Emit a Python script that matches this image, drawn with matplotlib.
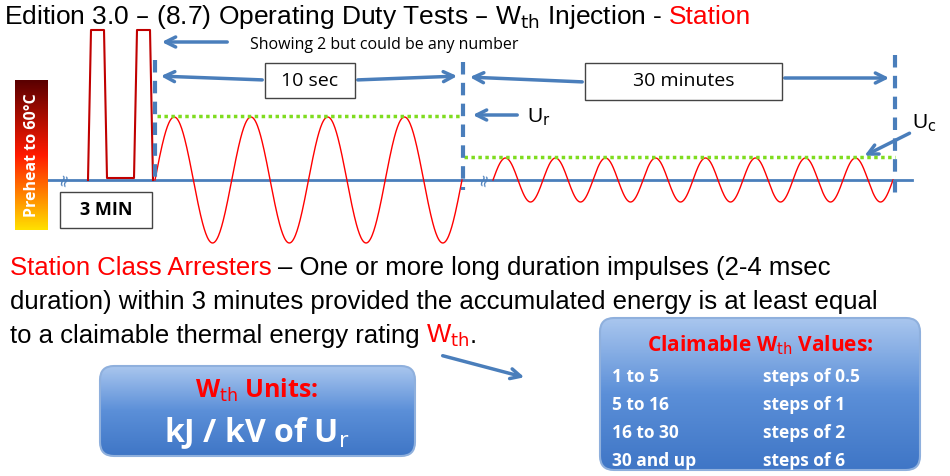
import numpy as np
import matplotlib; matplotlib.use("Agg")
import matplotlib.pyplot as plt
from matplotlib.patches import FancyBboxPatch, Rectangle

# ── 도식 데이터 (픽셀 좌표계, y는 아래로 증가) ──
base_y = 180
pulse_x = [88, 91, 104, 107, 134, 137, 150, 153]
pulse_y = [180, 30, 30, 178, 178, 30, 30, 180]
big_start, big_end, big_cycles, big_amp = 155, 462, 4, 63
small_start, small_end, small_cycles, small_amp = 493, 893, 8, 22
ur_level, uc_level = 116, 157
claim_rows = [("1 to 5", "steps of 0.5"), ("5 to 16", "steps of 1"),
              ("16 to 30", "steps of 2"), ("30 and up", "steps of 6")]

BLUE = "#4a7ebb"
fig = plt.figure(figsize=(9.5, 4.76), dpi=100)
ax = fig.add_axes([0, 0, 1, 1])
ax.set_xlim(0, 950); ax.set_ylim(476, 0); ax.axis("off")
rend = fig.canvas.get_renderer()

def runs(x, y, parts, fs):
    # 색이 다른 조각들을 이어서 배치 (gap: 조각 뒤 여백 px)
    for s, c, gap in parts:
        t = ax.text(x, y, s, color=c, fontsize=fs, va="center", family="Liberation Sans")
        x += t.get_window_extent(rend).width + gap

# 제목
runs(4, 17, [("Edition 3.0 – (8.7) Operating Duty Tests – W$_{\\rm th}$ Injection -", "black", 6),
             ("Station", "red", 0)], 19)

# 기준선
ax.plot([48, 912], [base_y, base_y], color=BLUE, lw=2, zorder=2)
for xb in (64, 484):
    ax.text(xb, base_y, "≈", rotation=75, fontsize=12, color=BLUE, ha="center", va="center")

# 펄스, 사인
ax.plot(pulse_x, pulse_y, color="#c00000", lw=1.5, zorder=3)
xs = np.linspace(big_start, big_end, 600)
ax.plot(xs, base_y - big_amp*np.sin(2*np.pi*big_cycles*(xs-big_start)/(big_end-big_start)), color="red", lw=1, zorder=3)
xs = np.linspace(small_start, small_end, 600)
ax.plot(xs, base_y - small_amp*np.sin(2*np.pi*small_cycles*(xs-small_start)/(small_end-small_start)), color="red", lw=1, zorder=3)

# 녹색 점선 레벨
ax.plot([157, 462], [ur_level, ur_level], color="#7fdc1f", lw=2.5, ls=(0, (1, 1)), zorder=4)
ax.plot([464, 895], [uc_level, uc_level], color="#7fdc1f", lw=2.5, ls=(0, (1, 1)), zorder=4)

# 점선 세로선
for xv, y0, y1 in [(155, 60, 182), (463, 62, 190), (895, 55, 195)]:
    ax.plot([xv, xv], [y0, y1], color=BLUE, lw=3, ls=(0, (3, 2)), zorder=4)

def arrow(x0, y0, x1, y1):
    ax.annotate("", (x1, y1), (x0, y0), arrowprops=dict(arrowstyle="->", color=BLUE, lw=2.5, mutation_scale=18))

arrow(230, 42, 159, 42)
ax.text(250, 45, "Showing 2 but could be any number", fontsize=11.5, va="center", family="Open Sans")
arrow(265, 80, 158, 76); arrow(355, 80, 460, 76)
arrow(585, 82, 467, 77); arrow(782, 78, 892, 78)
arrow(520, 115, 470, 115)
arrow(912, 132, 862, 157)
arrow(440, 355, 527, 378)
for x0, x1, y0, y1, t in [(265, 355, 63, 98, "10 sec"), (585, 782, 63, 100, "30 minutes")]:
    ax.add_patch(Rectangle((x0, y0), x1-x0, y1-y0, fc="white", ec="#444", lw=1, zorder=5))
    ax.text((x0+x1)/2, (y0+y1)/2, t, fontsize=14, ha="center", va="center", zorder=6, family="Open Sans")
ax.text(527, 117, "U$_{\\rm r}$", fontsize=15, va="center", family="Liberation Sans")
ax.text(912, 123, "U$_{\\rm c}$", fontsize=15, va="center", family="Liberation Sans")

# 3 MIN 박스
ax.add_patch(Rectangle((60, 192), 92, 36, fc="white", ec="#444", lw=1, zorder=5))
ax.text(106, 210, "3 MIN", fontsize=13, fontweight="bold", ha="center", va="center", zorder=6, family="Open Sans")

# 예열 그라데이션 박스
grad = np.linspace(0, 1, 200).reshape(-1, 1)
cmap = matplotlib.colors.LinearSegmentedColormap.from_list("ph", ["#5a0000", "#ff1a00", "#ffe000"])
ax.imshow(grad, cmap=cmap, extent=(15, 48, 230, 80), aspect="auto", zorder=5)
ax.text(31.5, 155, "Preheat to 60°C", rotation=90, color="white", fontsize=11.5, fontweight="bold",
        ha="center", va="center", zorder=6, family="Open Sans")

# 본문
fs = 18.5
runs(10, 268, [("Station Class Arresters", "red", 6), ("– One or more long duration impulses (2-4 msec", "black", 0)], fs)
runs(10, 302, [("duration) within 3 minutes provided the accumulated energy is at least equal", "black", 0)], fs)
runs(10, 336, [("to a claimable thermal energy rating", "black", 6), ("W$_{\\rm th}$", "red", 0), (".", "black", 0)], fs)

# 둥근 상자
def rbox(x0, y0, w, h):
    p = FancyBboxPatch((x0, y0), w, h, boxstyle="round,pad=0,rounding_size=14", fc="none", ec="#8fb0dd", lw=1.5, zorder=5)
    ax.add_patch(p)
    g = np.linspace(0, 1, 200).reshape(-1, 1)
    cm = matplotlib.colors.LinearSegmentedColormap.from_list("bx", ["#a9c6ee", "#5b8fd8", "#3f76c6"])
    im = ax.imshow(g, cmap=cm, extent=(x0, x0+w, y0+h, y0), aspect="auto", zorder=4)
    im.set_clip_path(p)

rbox(100, 366, 315, 90)
ax.text(257, 390, "W$_{\\rm th}$ Units:", color="red", fontsize=18, fontweight="bold", ha="center", va="center", zorder=6, family="Open Sans")
ax.text(257, 433, "kJ / kV of U$_{\\rm r}$", color="white", fontsize=23, fontweight="bold", ha="center", va="center", zorder=6, family="Open Sans")

rbox(600, 318, 320, 152)
ax.text(760, 345, "Claimable W$_{\\rm th}$ Values:", color="red", fontsize=15, fontweight="bold", ha="center", va="center", zorder=6, family="Open Sans")
for i, (a, b) in enumerate(claim_rows):
    y = 377 + i*28
    ax.text(612, y, a, color="white", fontsize=12.5, fontweight="bold", va="center", zorder=6, family="Open Sans")
    ax.text(763, y, b, color="white", fontsize=12.5, fontweight="bold", va="center", zorder=6, family="Open Sans")

fig.savefig("out.png", dpi=100)
